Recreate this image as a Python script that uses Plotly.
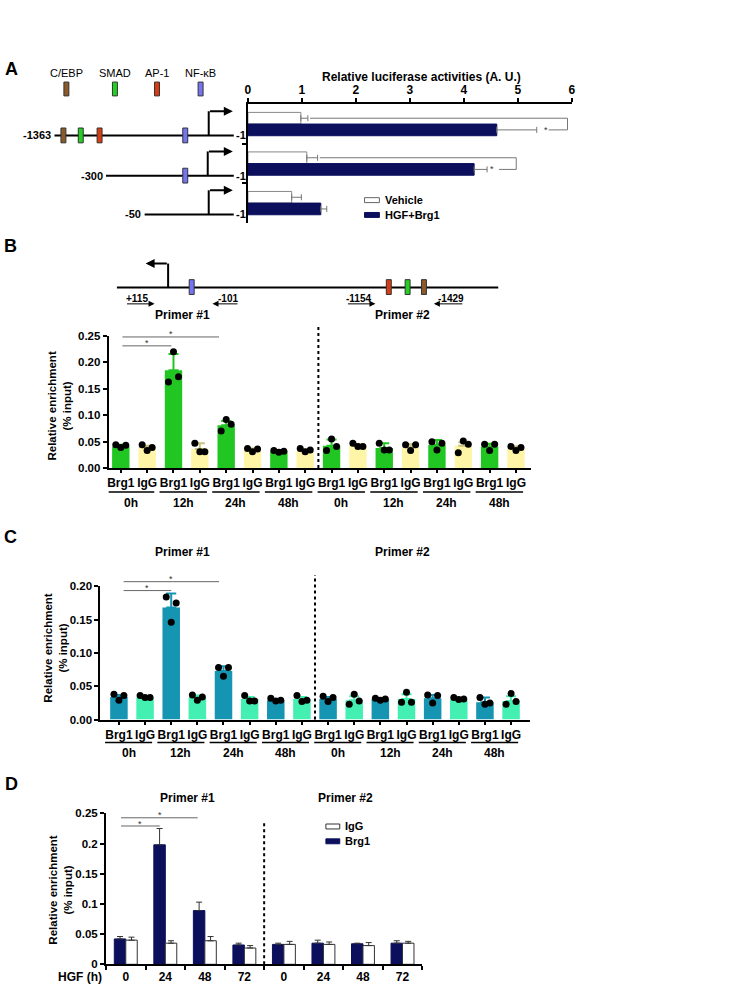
import plotly.graph_objects as go

W, H = 735, 995
FONT = "Liberation Sans, Arial, sans-serif"

# ---------------- data ----------------
# A: luciferase reporter (A.U.)
CONSTRUCTS = ["-1363", "-300", "-50"]
VEHICLE = [0.98, 1.09, 0.81]
VEHICLE_ERR = [0.13, 0.20, 0.18]
HGF_BRG1 = [4.61, 4.19, 1.35]
HGF_BRG1_ERR = [0.74, 0.24, 0.11]

# B / C: ChIP, primer #1 (0,12,24,48h) then primer #2 (0,12,24,48h)
TIMES = ["0h", "12h", "24h", "48h"]
ANTIBODIES = ["Brg1", "IgG"]

B_BRG1 = [0.041, 0.185, 0.081, 0.032, 0.042, 0.038, 0.044, 0.041]
B_BRG1_ERR = [0.003, 0.031, 0.008, 0.002, 0.012, 0.009, 0.009, 0.005]
B_BRG1_PTS = [[0.044, 0.039, 0.043], [0.163, 0.220, 0.173], [0.070, 0.092, 0.083],
              [0.033, 0.030, 0.032], [0.033, 0.055, 0.041], [0.047, 0.034, 0.034],
              [0.050, 0.034, 0.047], [0.045, 0.033, 0.045]]
B_IGG = [0.039, 0.036, 0.034, 0.032, 0.042, 0.039, 0.042, 0.038]
B_IGG_ERR = [0.003, 0.011, 0.003, 0.003, 0.003, 0.006, 0.007, 0.003]
B_IGG_PTS = [[0.044, 0.033, 0.039], [0.047, 0.031, 0.031], [0.037, 0.031, 0.036],
             [0.037, 0.031, 0.034], [0.047, 0.041, 0.041], [0.044, 0.033, 0.044],
             [0.029, 0.051, 0.045], [0.041, 0.033, 0.039]]

C_BRG1 = [0.034, 0.168, 0.073, 0.029, 0.031, 0.031, 0.032, 0.026]
C_BRG1_ERR = [0.003, 0.021, 0.007, 0.002, 0.003, 0.001, 0.005, 0.007]
C_BRG1_PTS = [[0.038, 0.029, 0.036], [0.184, 0.146, 0.175], [0.078, 0.065, 0.078],
              [0.032, 0.028, 0.029], [0.035, 0.027, 0.033], [0.032, 0.029, 0.031],
              [0.037, 0.025, 0.036], [0.033, 0.023, 0.025]]
C_IGG = [0.033, 0.033, 0.031, 0.031, 0.029, 0.031, 0.030, 0.028]
C_IGG_ERR = [0.001, 0.003, 0.003, 0.003, 0.006, 0.007, 0.001, 0.007]
C_IGG_PTS = [[0.036, 0.033, 0.033], [0.037, 0.029, 0.034], [0.036, 0.028, 0.028],
             [0.036, 0.027, 0.029], [0.023, 0.038, 0.028], [0.026, 0.041, 0.026],
             [0.033, 0.030, 0.031], [0.023, 0.039, 0.027]]

# D: ChIP HGF time course (h), primer #1 then primer #2
HOURS = ["0", "24", "48", "72"]
D_BRG1 = [0.042, 0.198, 0.089, 0.032, 0.033, 0.035, 0.034, 0.035]
D_BRG1_ERR = [0.004, 0.027, 0.014, 0.003, 0.002, 0.005, 0.001, 0.004]
D_IGG = [0.040, 0.035, 0.039, 0.027, 0.033, 0.033, 0.031, 0.035]
D_IGG_ERR = [0.005, 0.004, 0.007, 0.004, 0.005, 0.004, 0.005, 0.003]

SITES = {"C/EBP": "#8c5a28", "SMAD": "#22d022", "AP-1": "#d83c12", "NF-κB": "#7474f4"}
NAVY = "#0b0f5c"
DOT_OFFSETS = [-0.19, 0, 0.19]


def fx(x):
    return x / W


def fy(y):
    return 1 - y / H


shapes, annotations = [], []


def text(t, x, y, size=12, bold=True, xanchor="center", color="black", **kw):
    annotations.append(dict(
        text=f"<b>{t}</b>" if bold else t, x=fx(x), y=fy(y), xref="paper", yref="paper",
        xanchor=xanchor, yanchor="middle", showarrow=False,
        font=dict(family=FONT, size=size, color=color), **kw))


def pline(x0, y0, x1, y1, width=2, color="black", dash=None):
    shapes.append(dict(type="line", xref="paper", yref="paper", x0=fx(x0), y0=fy(y0),
                       x1=fx(x1), y1=fy(y1), line=dict(color=color, width=width, dash=dash)))


def box(cx, cy, color, w=5, h=15):
    shapes.append(dict(type="rect", xref="paper", yref="paper",
                       x0=fx(cx - w / 2), x1=fx(cx + w / 2), y0=fy(cy + h / 2), y1=fy(cy - h / 2),
                       fillcolor=color, line=dict(color="#333", width=1)))


def arrow(hx, hy, tx, ty, width=2, size=0.9):
    annotations.append(dict(
        text="", x=fx(hx), y=fy(hy), xref="paper", yref="paper", ax=tx - hx, ay=ty - hy,
        showarrow=True, arrowhead=2, arrowwidth=width, arrowsize=size, arrowcolor="black"))


fig = go.Figure()

# ---------------- panel A ----------------
rows = list(range(len(CONSTRUCTS)))
fig.add_trace(go.Bar(
    x=VEHICLE, y=rows, orientation="h", xaxis="x", yaxis="y", width=0.295, offset=-0.295,
    marker=dict(color="white", line=dict(color="#888", width=1)),
    error_x=dict(type="data", symmetric=False, array=VEHICLE_ERR, arrayminus=[0] * 3,
                 color="#777", thickness=1, width=3)))
fig.add_trace(go.Bar(
    x=HGF_BRG1, y=rows, orientation="h", xaxis="x", yaxis="y", width=0.295, offset=0,
    marker=dict(color=NAVY, line=dict(color=NAVY, width=1)),
    error_x=dict(type="data", symmetric=False, array=HGF_BRG1_ERR, arrayminus=[0] * 3,
                 color="#777", thickness=1, width=3)))

# significance brackets (rows 1, 2)
for r, right, star_x in [(0, 5.92, 5.42), (1, 4.97, 4.43)]:
    y_top, y_bot = r - 0.1475, r + 0.1475
    x_start = VEHICLE[r] + VEHICLE_ERR[r] + 0.04
    x_end = HGF_BRG1[r] + HGF_BRG1_ERR[r] + 0.22
    for x0, y0, x1, y1 in [(x_start, y_top, right, y_top), (right, y_top, right, y_bot),
                           (x_end, y_bot, right, y_bot)]:
        shapes.append(dict(type="line", xref="x", yref="y", x0=x0, y0=y0, x1=x1, y1=y1,
                           line=dict(color="#777", width=1)))
    annotations.append(dict(text="*", x=star_x + 0.1, y=y_bot, xref="x", yref="y",
                            showarrow=False, font=dict(family=FONT, size=9, color="#333")))

text("A", 8.5, 64, size=18)
text("Relative luciferase activities (A. U.)", 423, 72, size=12)
for name, cx in zip(SITES, [64, 113, 155.5, 199.5]):
    text(name, cx, 67.5, size=11, bold=False)
    box(cx, 84, SITES[name], h=14)

diagram = [("-1363", 52, 131, 207.7, ["C/EBP", "SMAD", "AP-1", "NF-κB"], [61, 78.5, 97.5, 184]),
           ("-300", 104, 171.7, 206.7, ["NF-κB"], [184]),
           ("-50", 143, 211, 207.7, [], [])]
for label, x0, yy, ax_x, sites, xs in diagram:
    pline(x0, yy, 233, yy)
    pline(ax_x, yy, ax_x, yy - 24.5)
    arrow(232, yy - 24.5, ax_x, yy - 24.5)
    for s, sx in zip(sites, xs):
        box(sx, yy, SITES[s])
    text(label, x0 - 1.5, yy, size=11, xanchor="right")
    text("-1", 233.5, yy, size=11, xanchor="left")

# legend A
shapes.append(dict(type="rect", xref="paper", yref="paper", x0=fx(365), x1=fx(380),
                   y0=fy(199), y1=fy(194), fillcolor="white", line=dict(color="#666", width=1)))
shapes.append(dict(type="rect", xref="paper", yref="paper", x0=fx(365), x1=fx(380),
                   y0=fy(214), y1=fy(209), fillcolor=NAVY, line=dict(color=NAVY, width=1)))
text("Vehicle", 384, 196, size=11, xanchor="left")
text("HGF+Brg1", 384, 211.5, size=11, xanchor="left")

# ---------------- panel B diagram ----------------
text("B", 7.5, 243, size=18)
pline(115, 285, 500, 285)
pline(166.7, 285, 166.7, 260.7)
arrow(144, 260.7, 166.7, 260.7)
for s, sx in zip(["NF-κB", "AP-1", "SMAD", "C/EBP"], [190.5, 389.5, 408.5, 425]):
    box(sx, 284.5, SITES[s])
for lab, lx, tail, head in [("+115", 135.5, 124, 153), ("-101", 227.5, 238, 211.5),
                            ("-1154", 358.5, 347, 376), ("-1429", 452.5, 465, 435)]:
    text(lab, lx, 296, size=10)
    arrow(head, 301.5, tail, 301.5, width=1, size=1.2)
text("Primer #1", 181, 313, size=12)
text("Primer #2", 403, 313, size=12)


# ---------------- panels B & C charts ----------------
def chip_panel(xa, ya, brg1, brg1_err, brg1_pts, igg, igg_err, igg_pts, c_brg1, c_igg,
               e_brg1, e_igg, bw):
    n = len(brg1)
    for k, (vals, errs, pts, col, ecol) in enumerate([
            (brg1, brg1_err, brg1_pts, c_brg1, e_brg1), (igg, igg_err, igg_pts, c_igg, e_igg)]):
        pos = [2 * i + k for i in range(n)]
        fig.add_trace(go.Bar(
            x=pos, y=vals, xaxis=xa, yaxis=ya, width=bw, offset=-bw / 2,
            marker=dict(color=col, line=dict(width=0)),
            error_y=dict(type="data", symmetric=False, array=errs, arrayminus=[0] * n,
                         color=ecol, thickness=2, width=5)))
        dx, dy = [], []
        for p, trip in zip(pos, pts):
            for off, v in zip(DOT_OFFSETS, trip):
                dx.append(p + off)
                dy.append(v)
        fig.add_trace(go.Scatter(x=dx, y=dy, mode="markers", xaxis=xa, yaxis=ya,
                                 marker=dict(color="black", size=7), cliponaxis=False))


chip_panel("x2", "y2", B_BRG1, B_BRG1_ERR, B_BRG1_PTS, B_IGG, B_IGG_ERR, B_IGG_PTS,
           "#22c622", "#fff5a6", "#22c622", "#c9c27a", 0.66)
chip_panel("x3", "y3", C_BRG1, C_BRG1_ERR, C_BRG1_PTS, C_IGG, C_IGG_ERR, C_IGG_PTS,
           "#1595b2", "#44efb2", "#1595b2", "#44efb2", 0.67)


def group_labels(xa, y_line, y_lab, labels):
    for g, lab in enumerate(labels):
        shapes.append(dict(type="line", xref=xa, yref="paper", x0=2 * g - 0.53, x1=2 * g + 1.27,
                           y0=fy(y_line), y1=fy(y_line), line=dict(color="black", width=1.5)))
        annotations.append(dict(text=f"<b>{lab}</b>", x=2 * g + 0.37, y=fy(y_lab), xref=xa,
                                yref="paper", showarrow=False, yanchor="middle",
                                font=dict(family=FONT, size=12, color="black")))


def sig(xa, x0, x1, y_px, star_dx=0):
    shapes.append(dict(type="line", xref=xa, yref="paper", x0=x0, x1=x1, y0=fy(y_px), y1=fy(y_px),
                       line=dict(color="#666", width=1)))
    annotations.append(dict(text="*", x=(x0 + x1) / 2 + star_dx, y=fy(y_px - 2.5), xref=xa,
                            yref="paper", showarrow=False, yanchor="middle",
                            font=dict(family=FONT, size=9, color="#333")))


group_labels("x2", 492, 503, TIMES * 2)
sig("x2", 0.06, 1.92, 344)
sig("x2", 0.06, 3.73, 335)
shapes.append(dict(type="line", xref="x2", yref="paper", x0=7.5, x1=7.5, y0=fy(467.7), y1=fy(324),
                   line=dict(color="black", width=2, dash="dot")))

text("C", 7.5, 537, size=18)
text("Primer #1", 181, 553, size=12)
text("Primer #2", 403, 553, size=12)
group_labels("x3", 745.5, 756, TIMES * 2)
sig("x3", 0.18, 2.0, 591.7)
sig("x3", 0.18, 3.83, 582.7)
shapes.append(dict(type="line", xref="x3", yref="paper", x0=7.5, x1=7.5, y0=fy(722.3), y1=fy(576),
                   line=dict(color="black", width=2, dash="dot")))

# ---------------- panel D ----------------
grp = list(range(len(D_BRG1)))
fig.add_trace(go.Bar(
    x=grp, y=D_BRG1, xaxis="x4", yaxis="y4", width=0.29, offset=-0.29,
    marker=dict(color=NAVY, line=dict(color=NAVY, width=1)),
    error_y=dict(type="data", symmetric=False, array=D_BRG1_ERR, arrayminus=[0] * 8,
                 color="#333", thickness=1, width=3)))
fig.add_trace(go.Bar(
    x=grp, y=D_IGG, xaxis="x4", yaxis="y4", width=0.29, offset=0,
    marker=dict(color="white", line=dict(color="#333", width=1)),
    error_y=dict(type="data", symmetric=False, array=D_IGG_ERR, arrayminus=[0] * 8,
                 color="#333", thickness=1, width=3)))

text("D", 8.5, 787, size=18)
text("Primer #1", 186, 802, size=12)
text("Primer #2", 346, 802, size=12)
text("HGF (h)", 78, 983, size=12)
sig("x4", -0.12, 1.82, 821.7, star_dx=0.02)
sig("x4", -0.12, 0.86, 830)
shapes.append(dict(type="line", xref="x4", yref="paper", x0=3.5, x1=3.5, y0=fy(970), y1=fy(825),
                   line=dict(color="black", width=2, dash="dot")))
shapes.append(dict(type="rect", xref="paper", yref="paper", x0=fx(326), x1=fx(340),
                   y0=fy(833), y1=fy(828), fillcolor="white", line=dict(color="#333", width=1)))
shapes.append(dict(type="rect", xref="paper", yref="paper", x0=fx(326), x1=fx(340),
                   y0=fy(848), y1=fy(843), fillcolor=NAVY, line=dict(color=NAVY, width=1)))
text("IgG", 343, 830.5, size=11, xanchor="left")
text("Brg1", 343, 845.5, size=11, xanchor="left")

# y titles
for xcen, ycen in [(57, 405), (53, 650), (58, 895)]:
    text("Relative enrichment<br>(% input)", xcen, ycen, size=11.5, textangle=-90)

# ---------------- axes ----------------
tickfont = dict(family=FONT, size=12, color="black", weight="bold")
ytickfont = dict(tickfont, size=11.5)
base = dict(showline=True, linecolor="black", linewidth=2, ticks="outside", tickcolor="black",
            tickwidth=1.5, ticklen=4, showgrid=False, zeroline=False, tickfont=tickfont)

fig.update_layout(
    width=W, height=H, margin=dict(l=0, r=0, t=0, b=0),
    paper_bgcolor="white", plot_bgcolor="white", showlegend=False, barmode="overlay",
    xaxis=dict(base, domain=[fx(247.3), fx(574.3)], range=[0, 6], dtick=1, side="top", anchor="y"),
    yaxis=dict(base, domain=[fy(219.5), fy(99.5)], range=[2.5, -0.5], anchor="x",
               tickvals=[0.5, 1.5], showticklabels=False),
    xaxis2=dict(base, domain=[fx(106.7), fx(532.8)], range=[-0.46, 15.56], anchor="y2",
                tickvals=list(range(16)), ticktext=ANTIBODIES * 8, ticklen=3),
    yaxis2=dict(base, domain=[fy(467.7), fy(334)], range=[0, 0.25], dtick=0.05,
                tickformat=".2f", anchor="x2", tickfont=ytickfont),
    xaxis3=dict(base, domain=[fx(98.3), fx(531.7)], range=[-0.71, 15.71], anchor="y3",
                tickvals=list(range(16)), ticktext=ANTIBODIES * 8, ticklen=3),
    yaxis3=dict(base, domain=[fy(722.3), fy(587.3)], range=[0, 0.2], dtick=0.05,
                tickformat=".2f", anchor="x3", tickfont=ytickfont),
    xaxis4=dict(base, domain=[fx(104), fx(423.3)], range=[-0.5, 7.5], anchor="y4",
                tickvals=list(range(8)), ticktext=HOURS * 2, ticks="",
                minor=dict(ticks="outside", tickmode="linear", tick0=0.5, dtick=1,
                           ticklen=4, tickwidth=1.5, tickcolor="black")),
    yaxis4=dict(base, domain=[fy(970), fy(817.3)], range=[0, 0.25], dtick=0.05, anchor="x4",
                tickfont=ytickfont),
    shapes=shapes, annotations=annotations,
)

# the page body has a default 8px margin; drop it so the figure sits at the window origin
fig.write_html("out.html", config={"displayModeBar": False},
               post_script="document.body.style.margin = '0px';")
